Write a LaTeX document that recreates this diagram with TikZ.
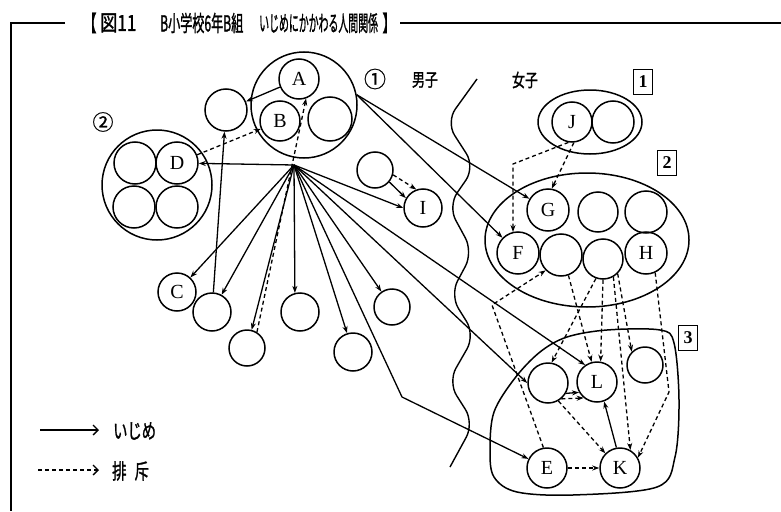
\documentclass[tikz,border=0pt]{standalone}
\usepackage{fontspec}
\setmainfont{Liberation Serif}
\newfontfamily\jp[FakeBold=1.6]{Noto Sans CJK JP}
\newfontfamily\jpr[FakeBold=0.8]{Noto Sans CJK JP}
\usetikzlibrary{arrows.meta,shapes.geometric}
\newcommand{\narrowtxt}[2]{\scalebox{#1}[1]{#2}}

\begin{document}
\begin{tikzpicture}[x=1pt,y=-1pt,
  grp/.style={draw,line width=1.5pt,inner sep=0pt},
  person/.style={circle,draw,line width=1.5pt,inner sep=0pt,minimum size=40pt,
    font=\fontsize{20}{20}\selectfont},
  bully/.style={line width=1.3pt,-{Stealth[length=7pt,width=5pt]}},
  reject/.style={line width=1.3pt,dash pattern=on 4pt off 3pt,-{Stealth[length=7pt,width=5pt]}},
  legendtip/.style={-{Straight Barb[length=5pt,width=10pt,line width=1.3pt]}},
  jtext/.style={inner sep=0pt,font=\jp\fontsize{22}{22}\selectfont},
  boxnum/.style={draw,line width=1.3pt,inner sep=0pt,minimum width=19pt,minimum height=25pt,
    font=\bfseries\fontsize{18}{18}\selectfont}]
\useasboundingbox (0,0) rectangle (781,511);

% frame and title
\draw[line width=1.4pt] (65,23) -- (11,23) -- (11,511);
\draw[line width=1.4pt] (400,23) -- (781,23);
\node[jtext] (tb1) at (90,23) {\narrowtxt{0.6}{【}};
\node[jtext,anchor=west] (tfig) at (100,23) {\narrowtxt{0.78}{図11}};
\node[jtext,anchor=west] (tcls) at (160,23) {\narrowtxt{0.55}{B小学校6年B組}};
\node[jtext,anchor=west] (tmain) at (259,23) {\narrowtxt{0.45}{いじめにかかわる人間関係}};
\node[jtext] (tb2) at (389,23) {\narrowtxt{0.6}{】}};

% group 1
\node[grp,circle,minimum size=106pt] (g1) at (304,105) {};
\node[person] (A) at (299,79) {A};
\node[person] (B) at (280,121) {B};
\node[person,minimum size=44pt] (b3) at (330,119) {};
\node[person,minimum size=42pt] (P) at (226,110) {};
\node[inner sep=0pt,font=\jpr\fontsize{22}{22}\selectfont] (n1) at (375,79) {①};

% group 2
\node[grp,circle,minimum size=110pt] (g2) at (157,185) {};
\node[person,minimum size=42pt] (D) at (177,163) {D};
\node[person,minimum size=42pt] (d1) at (135,163) {};
\node[person,minimum size=42pt] (d2) at (134,207) {};
\node[person,minimum size=42pt] (d3) at (177,207) {};
\node[inner sep=0pt,font=\jpr\fontsize{21}{21}\selectfont] (n2) at (103,122) {②};

% fan of victims
\coordinate (hub) at (294,165);
\node[person,minimum size=38pt] (C) at (177,292) {C};
\node[person,minimum size=38pt] (Q) at (212,312) {};
\node[person,minimum size=36pt] (R) at (247,348) {};
\node[person,minimum size=38pt] (S) at (300,312) {};
\node[person,minimum size=38pt] (T) at (353,352) {};
\node[person,minimum size=36pt] (U) at (392,307) {};
\node[person,minimum size=36pt] (N) at (375,170) {};
\node[person,minimum size=38pt] (I) at (423,208) {I};

% boys / girls divide
\node[jtext,font=\jp\fontsize{18}{18}\selectfont] (boys) at (425,80) {\narrowtxt{0.72}{男子}};
\node[jtext,font=\jp\fontsize{18}{18}\selectfont] (girls) at (525,80) {\narrowtxt{0.72}{女子}};
\draw[line width=1.4pt,rounded corners=16pt] (477,79) -- (446,122) -- (475,167) -- (448,206)
  -- (473,252) -- (450,295) -- (475,335) -- (448,382) -- (474,423) -- (450,467);

% girls group 1
\node[grp,ellipse,minimum width=104pt,minimum height=64pt] (e1) at (590,122) {};
\node[person] (J) at (572,122) {J};
\node[person,minimum size=42pt] (j2) at (613,122) {};
\node[boxnum] (k1) at (643,82) {1};

% girls group 2
\node[grp,ellipse,minimum width=204pt,minimum height=134pt] (e2) at (587,240) {};
\node[person,minimum size=42pt] (G) at (548,210) {G};
\node[person] (g22) at (598,212) {};
\node[person,minimum size=42pt] (g23) at (646,212) {};
\node[person,minimum size=42pt] (F) at (518,253) {F};
\node[person,minimum size=42pt] (F2) at (561,255) {};
\node[person] (F3) at (603,259) {};
\node[person,minimum size=42pt] (H) at (646,253) {H};
\node[boxnum] (k2) at (667,163) {2};

% girls group 3
\draw[line width=1.5pt] plot[smooth cycle,tension=0.55] coordinates {(567,337) (607,330) (660,330)
  (674,343) (679,400) (675,457) (657,487) (573,495) (517,492) (494,477) (490,450) (494,412)
  (515,378) (540,352)};
\node[person] (M) at (548,383) {};
\node[person] (L) at (597,382) {L};
\node[person,minimum size=36pt] (O) at (645,365) {};
\node[person] (E) at (547,468) {E};
\node[person] (K) at (620,468) {K};
\node[boxnum] (k3) at (688,338) {3};

% bend points
\coordinate (bendE) at (402,397);
\coordinate (jf) at (513,164);
\coordinate (ef) at (492,305);
\coordinate (hk) at (669,392);

% bullying
\draw[bully] (A) -- (P);
\draw[bully] (Q) -- (P);
\draw[bully] (hub) -- (D);
\draw[bully] (hub) -- (C);
\draw[bully] (hub) -- (Q);
\draw[bully] (hub) -- (R);
\draw[bully] (hub) -- (S.105);
\draw[bully] (hub) -- (T);
\draw[bully] (hub) -- (U);
\draw[bully] (hub) -- (I.west);
\draw[bully] (hub) -- (M.west);
\draw[bully] (hub) -- (L.125);
\draw[bully] (hub) -- (bendE) -- (E);
\draw[bully] (N.-40) -- (I.150);
\draw[bully] (g1.11) -- (G);
\draw[bully] (g1.11) -- (F);
\draw[bully] (M.-30) -- (L.-150);
\draw[bully] (K.100) -- (L.-70);

% rejection
\draw[reject] (D) -- (B);
\draw[reject] (R.58) -- (A.-70);
\draw[reject] (N.-15) -- (I.110);
\draw[reject] (J.-100) -- (jf) -- (jf |- F.105);
\draw[reject] (J.-85) -- (G.80);
\draw[reject] (E.100) -- (ef) -- (F2.225);
\draw[reject] (F2.-70) -- (L.105);
\draw[reject] (F3.-110) -- (M.80);
\draw[reject] (F3.-90) -- (L.80);
\draw[reject] (F3.-60) -- (K.60);
\draw[reject] (F3.-45) -- (O.135);
\draw[reject] (H.-65) -- (hk) -- (K.30);
\draw[reject] (M.-50) -- (L.-130);
\draw[reject] (M.-60) -- (K.135);
\draw[reject] (E) -- (K);

% legend
\coordinate (ls1) at (40,430);
\coordinate (le1) at (99,430);
\coordinate (ls2) at (38,470);
\coordinate (le2) at (99,470);
\draw[line width=1.3pt,legendtip] (ls1) -- (le1);
\draw[line width=1.3pt,dash pattern=on 4pt off 3pt,legendtip] (ls2) -- (le2);
\node[jtext,anchor=west,font=\jp\fontsize{21}{21}\selectfont] (lt1) at (113,431) {\narrowtxt{0.68}{いじめ}};
\node[jtext,anchor=west,font=\jp\fontsize{21}{21}\selectfont] (lt2) at (112,471) {\narrowtxt{0.68}{排\hspace{12pt}斥}};
\end{tikzpicture}
\end{document}
